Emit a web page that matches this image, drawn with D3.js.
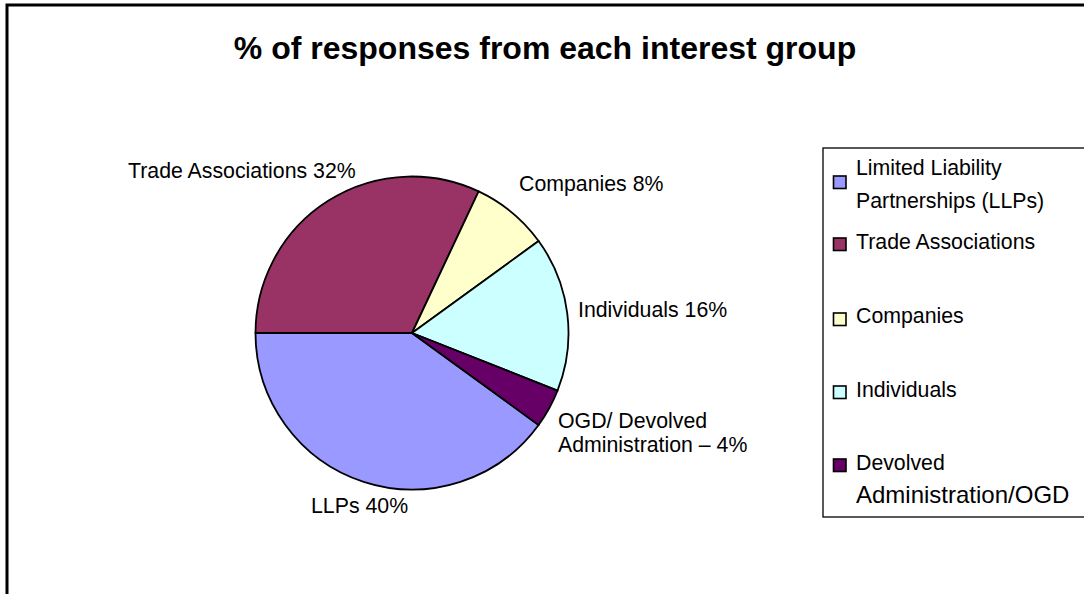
<!DOCTYPE html>
<html><head><meta charset="utf-8">
<script src="https://cdn.jsdelivr.net/npm/d3@7"></script>
<style>
body{margin:0;background:#fff}
svg{display:block}
text{font-family:"Liberation Sans",Arial,Helvetica,sans-serif;fill:#000}
</style>
</head><body>
<svg id="chart" width="1084" height="594"></svg>
<script>
// ---- data ----
const categories = ["Limited Liability Partnerships (LLPs)", "Trade Associations", "Companies", "Individuals", "Devolved Administration/OGD"];
const values = [40, 32, 8, 16, 4];
const sliceLabels = [["LLPs 40%"], ["Trade Associations 32%"], ["Companies 8%"], ["Individuals 16%"], ["OGD/ Devolved", "Administration \u2013 4%"]];
const legendLines = [["Limited Liability", "Partnerships (LLPs)"], ["Trade Associations"], ["Companies"], ["Individuals"], ["Devolved", "Administration/OGD"]];
const title = "% of responses from each interest group";

// ---- style / layout ----
const colors = ["#9999FF", "#993366", "#FFFFCC", "#CCFFFF", "#660066"];
const labelPos = [[311, 513], [128, 178], [519, 191], [578, 317], [558, 428]];
const legendSwatchTop = [176, 238, 313, 386, 459];
const legendBaseline = [175, 249, 323, 397, 470];
const legendLineSize = [[21.3, 21.3], [21.3], [21.3], [21.3], [21.3, 24]];

const svg = d3.select("#chart");

// frame
svg.append("path").attr("d", "M7,594V5H1084").attr("fill", "none").attr("stroke", "#000").attr("stroke-width", 3);

// title
svg.append("text").attr("x", 545).attr("y", 59).attr("text-anchor", "middle")
  .style("font-size", "32px").style("font-weight", "bold").text(title);

// pie
const cx = 412, cy = 333, r = 156.5;
const start = 126 * Math.PI / 180;
const pie = d3.pie().sort(null).value(d => d).startAngle(start).endAngle(start + 2 * Math.PI);
const arc = d3.arc().innerRadius(0).outerRadius(r);
const g = svg.append("g").attr("transform", `translate(${cx},${cy})`);
g.selectAll("path").data(pie(values)).join("path")
  .attr("d", arc)
  .attr("fill", (d, i) => colors[i])
  .attr("stroke", "#000").attr("stroke-width", 1.8).attr("stroke-linejoin", "round");

// slice labels
sliceLabels.forEach((lines, i) => {
  const t = svg.append("text").attr("x", labelPos[i][0]).attr("y", labelPos[i][1]).style("font-size", "21.3px");
  lines.forEach((ln, j) => {
    t.append("tspan").attr("x", labelPos[i][0]).attr("dy", j === 0 ? 0 : 24).text(ln);
  });
});

// legend
svg.append("rect").attr("x", 823).attr("y", 148).attr("width", 300).attr("height", 369)
  .attr("fill", "#fff").attr("stroke", "#000").attr("stroke-width", 1.3);
categories.forEach((c, i) => {
  svg.append("rect").attr("x", 833.5).attr("y", legendSwatchTop[i]).attr("width", 12.5).attr("height", 12.5)
    .attr("fill", colors[i]).attr("stroke", "#000").attr("stroke-width", 1.6);
  legendLines[i].forEach((ln, j) => {
    svg.append("text").attr("x", 856).attr("y", legendBaseline[i] + j * 33)
      .style("font-size", legendLineSize[i][j] + "px").text(ln);
  });
});
</script>
</body></html>
